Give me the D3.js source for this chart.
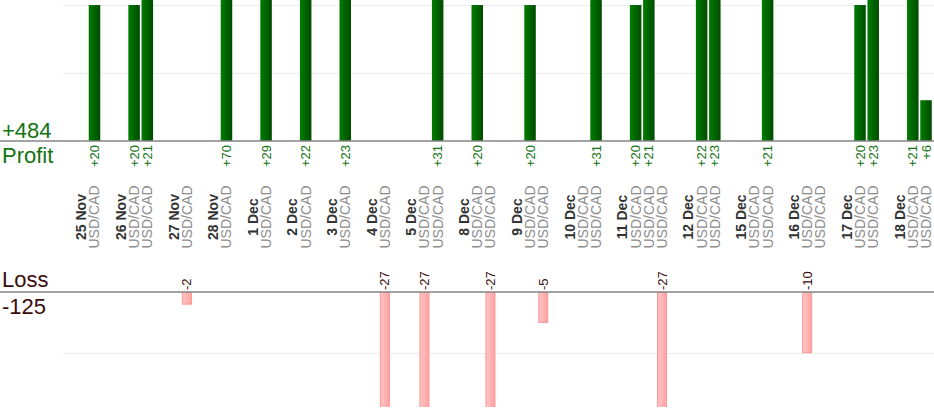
<!DOCTYPE html>
<html>
<head>
<meta charset="utf-8">
<script src="https://cdn.jsdelivr.net/npm/d3@7/dist/d3.min.js"></script>
<style>
  html, body { margin: 0; padding: 0; background: #fff; }
  svg { display: block; font-family: "Liberation Sans", Arial, sans-serif; }
</style>
</head>
<body>
<svg id="chart" width="934" height="420"></svg>
<script>
// ---- data ----
const days = ["25 Nov","26 Nov","27 Nov","28 Nov","1 Dec","2 Dec","3 Dec","4 Dec","5 Dec",
              "8 Dec","9 Dec","10 Dec","11 Dec","12 Dec","15 Dec","16 Dec","17 Dec","18 Dec"];
const tradesPerDay = [1,2,1,1,1,1,1,1,2,2,2,2,3,2,2,2,2,2];
const tradePairs = Array(30).fill("USD/CAD");
const tradeResults = [20, 20,21, -2, 70, 29, 22, 23, -27, -27,31, 20,-27, 20,-5, 0,31,
                      20,21,-27, 22,23, 0,21, -10,0, 20,23, 21,6];
const profitTotal = "+484";
const lossTotal = "-125";
const profitTicks = [10, 20];
const lossTicks = [-10, -20];

// ---- build slot list (header, trades, gap per day) ----
const slots = [];
let t = 0;
days.forEach((d, i) => {
  slots.push({type: "header", label: d});
  for (let k = 0; k < tradesPerDay[i]; k++) {
    slots.push({type: "trade", pair: tradePairs[t], value: tradeResults[t]});
    t++;
  }
  if (i < days.length - 1) slots.push({type: "gap"});
});
slots.forEach((s, i) => s.id = i);
const trades = slots.filter(s => s.type === "trade");

const W = 934, H = 420;
const svg = d3.select("#chart");

const x = d3.scaleBand().domain(slots.map(s => s.id)).range([74.7, 932.6]).padding(0);
const cx = id => x(id) + x.bandwidth() / 2;

const yP = d3.scaleLinear().domain([0, 20.74]).range([141, 0]);
const yL = d3.scaleLinear().domain([0, -18.95]).range([292, 407]);

const defs = svg.append("defs");
const gG = defs.append("linearGradient").attr("id", "gGreen").attr("x1", 0).attr("x2", 1).attr("y1", 0).attr("y2", 0);
gG.append("stop").attr("offset", "0%").attr("stop-color", "#007c00");
gG.append("stop").attr("offset", "100%").attr("stop-color", "#004c00");
const gR = defs.append("linearGradient").attr("id", "gRed").attr("x1", 0).attr("x2", 1).attr("y1", 0).attr("y2", 0);
gR.append("stop").attr("offset", "0%").attr("stop-color", "#ffc6c6");
gR.append("stop").attr("offset", "100%").attr("stop-color", "#ffa2a2");

defs.append("clipPath").attr("id", "clipP").append("rect").attr("x", 0).attr("y", 0).attr("width", W).attr("height", 141);
defs.append("clipPath").attr("id", "clipL").append("rect").attr("x", 0).attr("y", 292).attr("width", W).attr("height", 115);

// gridlines
svg.append("g").attr("clip-path", "url(#clipP)").selectAll("line").data(profitTicks).join("line")
  .attr("x1", 63).attr("x2", W).attr("y1", d => Math.round(yP(d)) + 0.5).attr("y2", d => Math.round(yP(d)) + 0.5)
  .attr("stroke", "#ececec").attr("stroke-width", 1);
svg.append("g").attr("clip-path", "url(#clipL)").selectAll("line").data(lossTicks).join("line")
  .attr("x1", 63).attr("x2", W).attr("y1", d => Math.round(yL(d)) + 0.5).attr("y2", d => Math.round(yL(d)) + 0.5)
  .attr("stroke", "#ececec").attr("stroke-width", 1);

// profit bars
svg.append("g").attr("clip-path", "url(#clipP)").selectAll("rect")
  .data(trades.filter(d => d.value > 0)).join("rect")
  .attr("x", d => cx(d.id) - 5.75).attr("width", 11.5)
  .attr("y", d => yP(d.value)).attr("height", d => yP(0) - yP(d.value))
  .attr("fill", "url(#gGreen)");

// loss bars
svg.append("g").attr("clip-path", "url(#clipL)").selectAll("rect")
  .data(trades.filter(d => d.value < 0)).join("rect")
  .attr("x", d => cx(d.id) - 4.5).attr("width", 9)
  .attr("y", yL(0)).attr("height", d => yL(d.value) - yL(0))
  .attr("fill", "url(#gRed)").attr("stroke", "#ff9494").attr("stroke-width", 1);

// baselines
svg.append("line").attr("x1", 0).attr("x2", W).attr("y1", 141).attr("y2", 141)
  .attr("stroke", "#858585").attr("stroke-width", 1.5);
svg.append("line").attr("x1", 0).attr("x2", W).attr("y1", 292).attr("y2", 292)
  .attr("stroke", "#858585").attr("stroke-width", 1.5);

// profit value labels
svg.append("g").selectAll("text").data(trades.filter(d => d.value > 0)).join("text")
  .attr("transform", d => `translate(${cx(d.id)},145) rotate(-90)`)
  .attr("text-anchor", "end").attr("dy", "0.35em")
  .attr("font-size", 13).attr("fill", "#137313")
  .text(d => "+" + d.value);

// loss value labels
svg.append("g").selectAll("text").data(trades.filter(d => d.value < 0)).join("text")
  .attr("transform", d => `translate(${cx(d.id)},290) rotate(-90)`)
  .attr("text-anchor", "start").attr("dy", "0.35em")
  .attr("font-size", 13).attr("fill", "#3a0c0c")
  .text(d => d.value);

// date labels
svg.append("g").selectAll("text").data(slots.filter(s => s.type === "header")).join("text")
  .attr("transform", d => `translate(${cx(d.id)},217) rotate(-90)`)
  .attr("text-anchor", "middle").attr("dy", "0.35em")
  .attr("font-size", 14).attr("font-weight", "bold").attr("fill", "#333")
  .text(d => d.label);

// pair labels
svg.append("g").selectAll("text").data(trades).join("text")
  .attr("transform", d => `translate(${cx(d.id)},217) rotate(-90)`)
  .attr("text-anchor", "middle").attr("dy", "0.35em")
  .attr("font-size", 14).attr("fill", "#8c8c8c")
  .text(d => d.pair);

// left totals
svg.append("text").attr("x", 2).attr("y", 138).attr("font-size", 22).attr("fill", "#137313").text(profitTotal);
svg.append("text").attr("x", 2).attr("y", 163).attr("font-size", 22).attr("fill", "#137313").text("Profit");
svg.append("text").attr("x", 2).attr("y", 287).attr("font-size", 22).attr("fill", "#3a0c0c").text("Loss");
svg.append("text").attr("x", 2).attr("y", 314).attr("font-size", 22).attr("fill", "#3a0c0c").text(lossTotal);
</script>
</body>
</html>
